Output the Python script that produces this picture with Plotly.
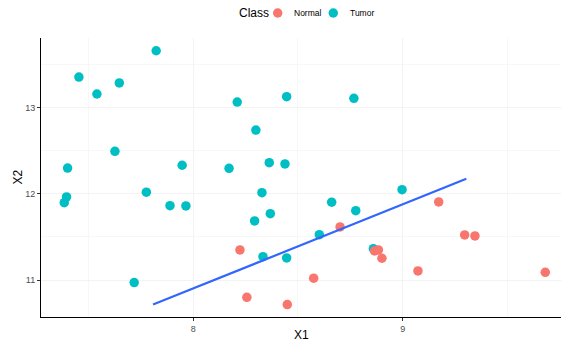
import plotly.graph_objects as go

# Sample measurements by class
tumor_x = [7.823, 7.454, 7.540, 7.647, 8.210, 8.446, 8.299, 7.626, 7.400, 7.947,
           8.171, 8.363, 8.438, 7.395, 7.384, 7.776, 8.328, 7.889, 7.965, 8.293,
           8.368, 8.333, 8.446, 7.718, 8.767, 8.997, 8.661, 8.776, 8.602, 8.860]
tumor_y = [13.661, 13.356, 13.159, 13.287, 13.066, 13.128, 12.741, 12.494, 12.300, 12.332,
           12.297, 12.362, 12.347, 11.964, 11.898, 12.019, 12.014, 11.863, 11.860, 11.686,
           11.770, 11.271, 11.256, 10.970, 13.109, 12.049, 11.903, 11.805, 11.527, 11.364]

normal_x = [8.223, 8.256, 8.449, 8.575, 8.701, 8.866, 8.884, 8.901, 9.073, 9.172,
            9.296, 9.345, 9.681]
normal_y = [11.349, 10.800, 10.715, 11.021, 11.616, 11.338, 11.349, 11.253, 11.106, 11.906,
            11.523, 11.512, 11.090]

# Fitted linear trend
fit_x = [7.808, 9.304]
fit_y = [10.715, 12.176]

class_names = ["Normal", "Tumor"]

FONT = "Liberation Sans"
RED = "#F8766D"
TEAL = "#00BFC4"
class_colors = [RED, TEAL]

fig = go.Figure()
fig.add_trace(go.Scatter(x=tumor_x, y=tumor_y, mode="markers", name="Tumor",
                         showlegend=False,
                         marker=dict(color=TEAL, size=9.5, line=dict(width=0))))
fig.add_trace(go.Scatter(x=normal_x, y=normal_y, mode="markers", name="Normal",
                         showlegend=False,
                         marker=dict(color=RED, size=9.5, line=dict(width=0))))
fig.add_trace(go.Scatter(x=fit_x, y=fit_y, mode="lines", showlegend=False,
                         line=dict(color="#3366FF", width=2.2)))

axis_common = dict(
    showline=True, linecolor="black", linewidth=1.1,
    ticks="outside", ticklen=3, tickcolor="#333333", tickwidth=1,
    tickfont=dict(family=FONT, size=9, color="#4D4D4D"),
    showgrid=True, gridcolor="#F3F3F3", gridwidth=1,
    zeroline=False, mirror=False,
)

# Compact legend row above the panel: title, then key dot + label per class
legend_y = 1.0896
key_x = [0.4552, 0.5621]
label_x = [0.4821, 0.5898]
shapes = []
annotations = [
    dict(text="Class", x=0.3775, xref="paper", xanchor="left", y=legend_y, yref="paper",
         yanchor="middle", showarrow=False, font=dict(family=FONT, size=12, color="black")),
]
for name, col, kx, lx in zip(class_names, class_colors, key_x, label_x):
    shapes.append(dict(type="circle", xref="paper", yref="paper",
                       xsizemode="pixel", ysizemode="pixel",
                       xanchor=kx, yanchor=legend_y,
                       x0=-4.75, x1=4.75, y0=-4.75, y1=4.75,
                       fillcolor=col, line=dict(width=0)))
    annotations.append(dict(text=name, x=lx, xref="paper", xanchor="left", y=legend_y,
                            yref="paper", yanchor="middle", showarrow=False,
                            font=dict(family=FONT, size=8.5, color="black")))

annotations += [
    dict(text="X1", x=0.5, xref="paper", y=0, yref="paper", yanchor="middle",
         yshift=-18, showarrow=False, font=dict(family=FONT, size=12, color="black")),
    dict(text="X2", x=0, xref="paper", xanchor="center", xshift=-24,
         y=0.5, yref="paper", textangle=-90, showarrow=False,
         font=dict(family=FONT, size=12, color="black")),
]

fig.update_layout(
    width=561, height=342,
    margin=dict(l=41, r=0, t=38, b=25),
    plot_bgcolor="white", paper_bgcolor="white",
    font=dict(family=FONT),
    showlegend=False,
    xaxis=dict(range=[7.273, 9.756], tickvals=[8, 9], ticktext=["8", "9"],
               minor=dict(tickvals=[7.5, 8.5, 9.5], showgrid=True,
                          gridcolor="#F7F7F7", gridwidth=1, ticks=""),
               **axis_common),
    yaxis=dict(range=[10.571, 13.809], tickvals=[11, 12, 13], ticktext=["11", "12", "13"],
               minor=dict(tickvals=[11.5, 12.5, 13.5], showgrid=True,
                          gridcolor="#F7F7F7", gridwidth=1, ticks=""),
               **axis_common),
    shapes=shapes,
    annotations=annotations,
)

fig.write_html("out.html")
